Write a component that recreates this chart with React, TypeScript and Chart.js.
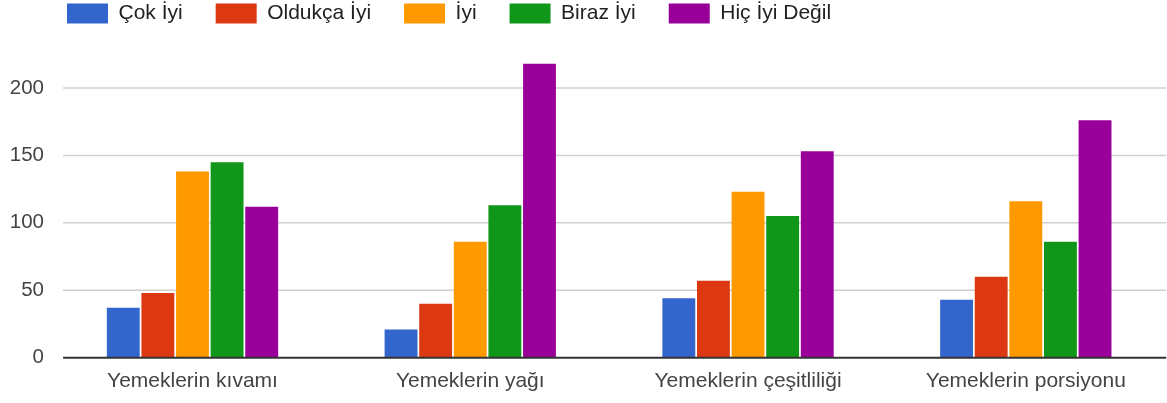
import React, { useEffect, useRef } from "react";
import { Chart, registerables } from "chart.js";

Chart.register(...registerables);

const categories = ["Yemeklerin kıvamı", "Yemeklerin yağı", "Yemeklerin çeşitliliği", "Yemeklerin porsiyonu"];
const seriesNames = ["Çok İyi", "Oldukça İyi", "İyi", "Biraz İyi", "Hiç İyi Değil"];
const cokIyi = [37, 21, 44, 43];
const oldukcaIyi = [48, 40, 57, 60];
const iyi = [138, 86, 123, 116];
const birazIyi = [145, 113, 105, 86];
const hicIyiDegil = [112, 218, 153, 176];
const seriesValues = [cokIyi, oldukcaIyi, iyi, birazIyi, hicIyiDegil];
const colors = ["#3366cc", "#dc3912", "#ff9900", "#109618", "#990099"];
const yTicks = [0, 50, 100, 150, 200];

const FONT = "'Liberation Sans', Arial, sans-serif";

const gridPlugin = {
  id: "customGrid",
  afterLayout(chart: any) {
    const lg = chart.legend;
    if (lg) {
      lg.left += 34;
      lg.right += 34;
    }
  },
  beforeDatasetsDraw(chart: any) {
    const { ctx, chartArea, scales } = chart;
    const y = scales.y;
    const x0 = chartArea.left + 9.5;
    const x1 = chartArea.right + 1.5;
    ctx.save();
    ctx.strokeStyle = "#d0d0d0";
    ctx.lineWidth = 1.5;
    y.ticks.forEach((t: any) => {
      if (t.value === 0) return;
      const py = y.getPixelForValue(t.value);
      ctx.beginPath();
      ctx.moveTo(x0, py);
      ctx.lineTo(x1, py);
      ctx.stroke();
    });
    ctx.restore();
  },
  afterDatasetsDraw(chart: any) {
    const { ctx, chartArea, scales } = chart;
    const y = scales.y;
    const py = y.getPixelForValue(0);
    ctx.save();
    ctx.strokeStyle = "#333333";
    ctx.lineWidth = 2;
    ctx.beginPath();
    ctx.moveTo(chartArea.left + 9.5, py);
    ctx.lineTo(chartArea.right + 1.5, py);
    ctx.stroke();
    ctx.restore();
  },
};

export default function App() {
  const ref = useRef<HTMLCanvasElement>(null);

  useEffect(() => {
    if (!ref.current) return;
    const chart = new Chart(ref.current, {
      type: "bar",
      data: {
        labels: categories,
        datasets: seriesNames.map((name, i) => ({
          label: name,
          data: seriesValues[i],
          backgroundColor: colors[i],
          borderWidth: 0,
          barPercentage: 0.95,
          categoryPercentage: 0.623,
        })),
      },
      options: {
        responsive: false,
        animation: false,
        layout: { padding: { left: 0, right: 2.3, top: -30, bottom: 10 } },
        plugins: {
          legend: {
            position: "top",
            align: "start",
            labels: {
              boxWidth: 41,
              boxHeight: 20,
              padding: 33,
              color: "#222",
              font: { family: FONT, size: 21 },
            },
          },
          tooltip: { enabled: false },
        },
        scales: {
          x: {
            afterFit: (scale: any) => {
              scale.height = 35.3;
            },
            grid: { display: false, drawTicks: false },
            border: { display: false },
            ticks: { color: "#444", font: { family: FONT, size: 21 }, padding: 11 },
          },
          y: {
            min: 0,
            max: 240,
            afterBuildTicks: (scale: any) => {
              scale.ticks = yTicks.map((v) => ({ value: v }));
            },
            afterFit: (scale: any) => {
              scale.width = 53.6;
            },
            grid: { display: false, drawTicks: false },
            border: { display: false },
            ticks: { color: "#444", font: { family: FONT, size: 20.5 }, padding: 9.6 },
          },
        },
      },
      plugins: [gridPlugin],
    });
    return () => chart.destroy();
  }, []);

  return (
    <div style={{ position: "absolute", left: 0, top: 0, width: 1167, height: 403, background: "#fff" }}>
      <canvas ref={ref} width={1167} height={403} />
    </div>
  );
}
